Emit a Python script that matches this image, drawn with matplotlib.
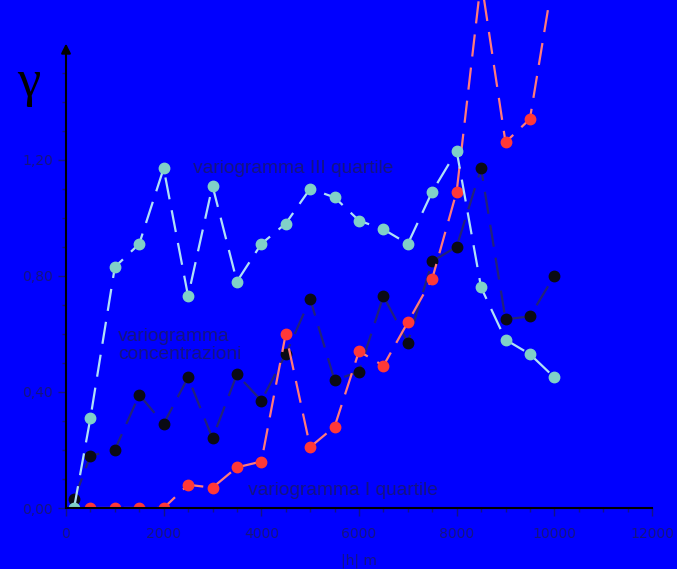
import matplotlib.pyplot as plt
from matplotlib.ticker import MultipleLocator, FuncFormatter

# distanze (m)
lag = [165, 500, 1000, 1500, 2000, 2500, 3000, 3500, 4000, 4500, 5000,
       5500, 6000, 6500, 7000, 7500, 8000, 8500, 9000, 9500, 10000]

# variogramma III quartile
q3 = [0.00, 0.31, 0.83, 0.91, 1.17, 0.73, 1.11, 0.78, 0.91, 0.98, 1.10,
      1.07, 0.99, 0.96, 0.91, 1.09, 1.23, 0.76, 0.58, 0.53, 0.45]

# variogramma concentrazioni
conc = [0.03, 0.18, 0.20, 0.39, 0.29, 0.45, 0.24, 0.46, 0.37, 0.53, 0.72,
        0.44, 0.47, 0.73, 0.57, 0.85, 0.90, 1.17, 0.65, 0.66, 0.80]

# variogramma I quartile (parte dal secondo passo)
lag_q1 = lag[1:]
q1 = [0.00, 0.00, 0.00, 0.00, 0.08, 0.07, 0.14, 0.16, 0.60, 0.21,
      0.28, 0.54, 0.49, 0.64, 0.79, 1.09, 1.82, 1.26, 1.34, 1.85]

BLU = '#0000ff'
TXT = '#141482'

fig = plt.figure(figsize=(6.77, 5.69), dpi=100, facecolor=BLU)
ax = fig.add_axes([66 / 677, 61 / 569, (652 - 66) / 677, 508 / 569])
ax.set_facecolor(BLU)

dash = (0, (10, 5))
ax.plot(lag, conc, color='#22227a', lw=1.6, linestyle=dash, marker='o',
        markersize=7.5, markerfacecolor='#0a0a14', markeredgecolor='#0a0a14')
ax.plot(lag_q1, q1, color='#ff7a7a', lw=1.6, linestyle=dash, marker='o',
        markersize=7.5, markerfacecolor='#ff3838', markeredgecolor='#ff3838')
ax.plot(lag, q3, color='#b0e0f8', lw=1.6, linestyle=dash, marker='o',
        markersize=7.5, markerfacecolor='#80d0c8', markeredgecolor='#80d0c8')

ax.set_xlim(0, 12000)
ax.set_ylim(0, 1.75)

for s in ['top', 'right', 'left']:
    ax.spines[s].set_visible(False)
ax.spines['bottom'].set_color('black')
ax.spines['bottom'].set_linewidth(1.5)
ax.spines['bottom'].set_bounds(0, 12000)

# asse y con freccia
ax.annotate('', xy=(0, 1.60), xytext=(0, 0), xycoords='data',
            arrowprops=dict(arrowstyle='-|>', color='black', lw=1.5,
                            mutation_scale=14, shrinkA=0, shrinkB=0),
            annotation_clip=False)

ax.xaxis.set_major_locator(MultipleLocator(2000))
ax.xaxis.set_minor_locator(MultipleLocator(500))
ax.set_yticks([0, 0.4, 0.8, 1.2])
ax.set_yticks([i / 10 for i in range(16)], minor=True)
ax.yaxis.set_major_formatter(FuncFormatter(lambda v, p: f'{v:.2f}'.replace('.', ',')))
ax.tick_params(axis='both', which='major', colors=TXT, labelsize=10, length=6, width=1)
ax.tick_params(axis='both', which='minor', colors=TXT, length=3, width=1)
ax.tick_params(axis='x', pad=8)

ax.set_xlabel('|h| m', color=TXT, fontsize=10, labelpad=9)

fig.text(17 / 677, 1 - 96 / 569, 'γ', fontsize=38, family='Liberation Serif',
         color='black')

fnt = dict(color=TXT, fontsize=13.8, family='Liberation Sans')
ax.text(2600, 1.17, 'variogramma III quartile', va='center', **fnt)
ax.text(1070, 0.56, 'variogramma\nconcentrazioni', va='center', linespacing=1.05, **fnt)
ax.text(3720, 0.06, 'variogramma I quartile', va='center', **fnt)

fig.savefig('out.png', dpi=100, facecolor=BLU)
